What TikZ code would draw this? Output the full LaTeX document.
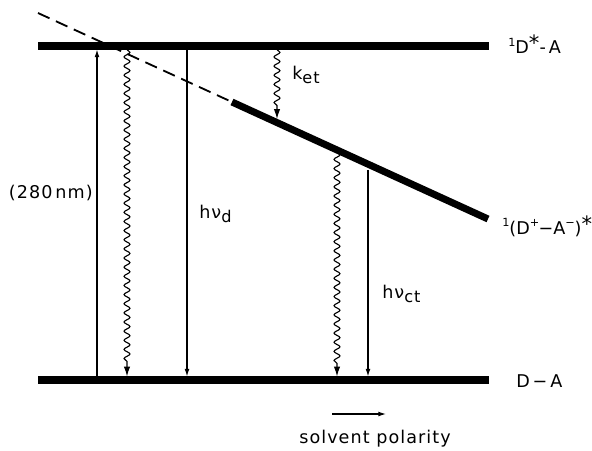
\documentclass[tikz,border=0pt]{standalone}
\usepackage{fontspec}
\setmainfont{DejaVu Sans}[LetterSpace=6]
\usetikzlibrary{arrows.meta,decorations.pathmorphing}
\newcommand{\lowr}[1]{\raisebox{-0.5ex}{\fontsize{11.5}{12}\selectfont #1}}
\newcommand{\upr}[1]{\raisebox{0.75ex}{\fontsize{8}{9}\selectfont #1}}
\newcommand{\bigstar}{\raisebox{0.3ex}{\fontsize{15}{15}\selectfont*}}

\begin{document}
\begin{tikzpicture}[
  x=0.025cm, y=-0.025cm,
  every node/.style={font=\fontsize{12.5}{14}\selectfont, inner sep=0pt},
  level/.style={line width=5pt},
  guide/.style={line width=1.3pt, dash pattern=on 9pt off 5pt},
  trans/.style={line width=0.8pt, -{Latex[length=5.5pt,width=3.5pt]}},
  nonrad/.style={line width=0.8pt, -{Latex[length=7pt,width=4.5pt]},
                 decoration={snake,amplitude=2.1pt,segment length=6.5pt,post length=8pt},
                 decorate},
]
\useasboundingbox (0,0) rectangle (592,450);

% levels
\coordinate (leL) at (38,46);
\coordinate (leR) at (489,46);
\coordinate (gsL) at (38,380);
\coordinate (gsR) at (489,380);
\coordinate (ctS) at (38,13);
\coordinate (ctL) at (232,102);
\coordinate (ctR) at (488,219);

\draw[guide] (ctS) -- (ctL);
\draw[level] (leL) -- (leR);
\draw[level] (gsL) -- (gsR);
\draw[level] (ctL) -- (ctR);

\node[anchor=west] (le) at (508,44) {\upr{1}D\bigstar-\,A};
\node[anchor=west] (ct) at (502,226) {\addfontfeature{LetterSpace=0}\upr{1}(D\upr{+}\kern-0.5pt−A\upr{−})\bigstar};
\node[anchor=west] (gs) at (516,381) {D\,−\,A};

% transitions
\coordinate (absB) at (97,382);
\coordinate (absT) at (97,49.5);
\coordinate (ic1T) at (127,49.5);
\coordinate (ic1B) at (127,376.5);
\coordinate (flT)  at (187,49.5);
\coordinate (flB)  at (187,376.5);
\coordinate (etT)  at (277,49.5);
\coordinate (etB)  at (277,119);
\coordinate (ic2T) at (337,152);
\coordinate (ic2B) at (337,376.5);
\coordinate (ctT)  at (368,170);
\coordinate (ctB)  at (368,376.5);

\draw[trans]  (absB) -- (absT);
\draw[nonrad] (ic1T) -- (ic1B);
\draw[trans]  (flT) -- (flB);
\draw[nonrad] (etT) -- (etB);
\draw[nonrad] (ic2T) -- (ic2B);
\draw[trans]  (ctT) -- (ctB);

\node[anchor=east] (abs) at (93,193) {(280\,nm)};
\node[anchor=west] (fl)  at (199,214) {hν\lowr{d}};
\node[anchor=west] (et)  at (292,75)  {k\lowr{et}};
\node[anchor=west] (fct) at (382,294) {hν\lowr{ct}};

\coordinate (spA) at (332,414);
\coordinate (spB) at (386,414);
\draw[trans] (spA) -- (spB);
\node (sp) at (375,439) {solvent polarity};
\end{tikzpicture}
\end{document}
